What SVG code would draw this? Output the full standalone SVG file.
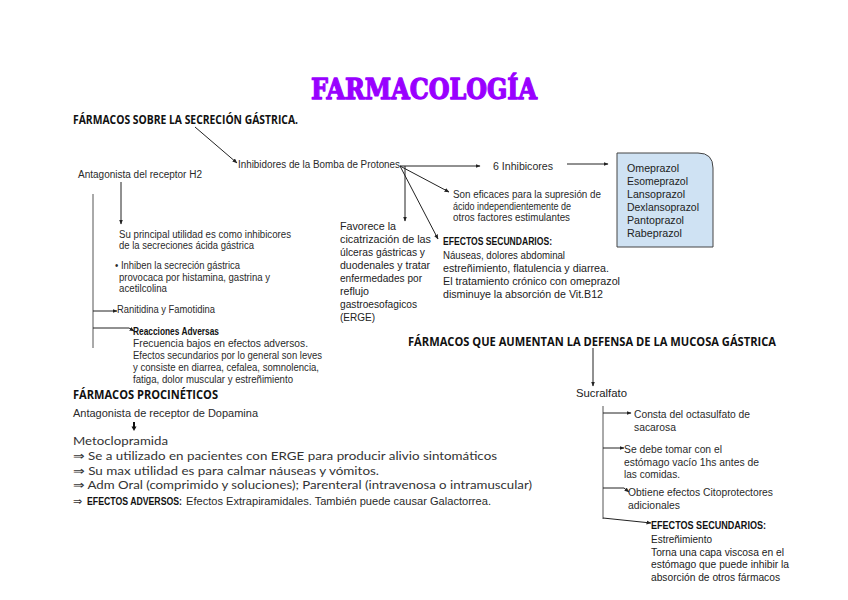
<svg xmlns="http://www.w3.org/2000/svg" width="848" height="600" viewBox="0 0 848 600">
<defs>
<marker id="ah" viewBox="0 0 10 10" refX="9" refY="5" markerWidth="5" markerHeight="5" orient="auto"><path d="M0,1 L10,5 L0,9 z" fill="#222"/></marker>
<style>
.t{font-family:"Liberation Sans",Arial,sans-serif;font-size:10px;fill:#2a2a2a}
.m{font-family:"Liberation Sans",Arial,sans-serif;font-size:11px;fill:#222}
.h{font-family:"Open Sans","Liberation Sans",sans-serif;font-weight:bold;font-size:12px;fill:#111}
.hs{font-family:"Liberation Sans",Arial,sans-serif;font-weight:bold;font-size:10.5px;fill:#111}
.r{font-family:Lato,"Liberation Sans",sans-serif;font-size:11.5px;fill:#333}
.c{fill:none;stroke:#222;stroke-width:1}
.g{fill:none;stroke:#555;stroke-width:1}
</style>
</defs>
<rect width="848" height="600" fill="#fff"/>

<g id="title"><text x="311" y="99" font-family="'DejaVu Serif',serif" font-weight="bold" font-size="27" fill="#9900ff" stroke="#9900ff" stroke-width="1.3" stroke-linejoin="round" textLength="226" lengthAdjust="spacingAndGlyphs">FARMACOLOGÍA</text></g>

<g id="secrecion"><text class="h" x="73" y="124" textLength="225" lengthAdjust="spacingAndGlyphs">FÁRMACOS SOBRE LA SECRECIÓN GÁSTRICA.</text></g>

<g id="ibp"><text class="t" x="238" y="168" textLength="162" lengthAdjust="spacingAndGlyphs">Inhibidores de la Bomba de Protones</text></g>

<g id="seis"><text class="t" x="493" y="170" font-size="10.5" textLength="60" lengthAdjust="spacingAndGlyphs">6 Inhibicores</text></g>

<g id="lista">
<path d="M617,153 H698 Q713,153 713,168 V247 H617 Z" fill="#cfe2f3" stroke="#444" stroke-width="1"/>
<text class="m" x="627" y="172" textLength="52" lengthAdjust="spacingAndGlyphs">Omeprazol</text>
<text class="m" x="627" y="185" textLength="61" lengthAdjust="spacingAndGlyphs">Esomeprazol</text>
<text class="m" x="627" y="198" textLength="58" lengthAdjust="spacingAndGlyphs">Lansoprazol</text>
<text class="m" x="627" y="211" textLength="72" lengthAdjust="spacingAndGlyphs">Dexlansoprazol</text>
<text class="m" x="627" y="224" textLength="57" lengthAdjust="spacingAndGlyphs">Pantoprazol</text>
<text class="m" x="627" y="237" textLength="55" lengthAdjust="spacingAndGlyphs">Rabeprazol</text>
</g>

<g id="eficaces">
<text class="t" x="453" y="198" textLength="148" lengthAdjust="spacingAndGlyphs">Son eficaces para la supresión de</text>
<text class="t" x="453" y="210" textLength="118" lengthAdjust="spacingAndGlyphs">ácido independientemente de</text>
<text class="t" x="453" y="221" textLength="117" lengthAdjust="spacingAndGlyphs">otros factores estimulantes</text>
</g>

<g id="favorece">
<text class="m" x="340" y="230" textLength="56" lengthAdjust="spacingAndGlyphs">Favorece la</text>
<text class="m" x="340" y="243" textLength="91" lengthAdjust="spacingAndGlyphs">cicatrización de las</text>
<text class="m" x="340" y="256" textLength="85" lengthAdjust="spacingAndGlyphs">úlceras gástricas y</text>
<text class="m" x="340" y="269" textLength="90" lengthAdjust="spacingAndGlyphs">duodenales y tratar</text>
<text class="m" x="340" y="282" textLength="82" lengthAdjust="spacingAndGlyphs">enfermedades por</text>
<text class="m" x="340" y="295" textLength="29" lengthAdjust="spacingAndGlyphs">reflujo</text>
<text class="m" x="340" y="308" textLength="77" lengthAdjust="spacingAndGlyphs">gastroesofagicos</text>
<text class="m" x="340" y="321" textLength="35" lengthAdjust="spacingAndGlyphs">(ERGE)</text>
</g>

<g id="efectos-ibp">
<text class="hs" x="443" y="245" textLength="109" lengthAdjust="spacingAndGlyphs">EFECTOS SECUNDARIOS:</text>
<text class="m" x="443" y="259" textLength="122" lengthAdjust="spacingAndGlyphs">Náuseas, dolores abdominal</text>
<text class="m" x="443" y="272" textLength="166" lengthAdjust="spacingAndGlyphs">estreñimiento, flatulencia y diarrea.</text>
<text class="m" x="443" y="285" textLength="177" lengthAdjust="spacingAndGlyphs">El tratamiento crónico con omeprazol</text>
<text class="m" x="443" y="298" textLength="160" lengthAdjust="spacingAndGlyphs">disminuye la absorción de Vit.B12</text>
</g>

<g id="h2"><text class="t" x="78" y="178" textLength="124" lengthAdjust="spacingAndGlyphs">Antagonista del receptor H2</text></g>

<g id="utilidad">
<text class="t" x="119" y="238" textLength="172" lengthAdjust="spacingAndGlyphs">Su principal utilidad es como inhibicores</text>
<text class="t" x="119" y="249" textLength="135" lengthAdjust="spacingAndGlyphs">de la secreciones ácida gástrica</text>
</g>

<g id="inhiben">
<text class="t" x="115" y="269" textLength="125" lengthAdjust="spacingAndGlyphs">• Inhiben la secreción gástrica</text>
<text class="t" x="119" y="281" textLength="151" lengthAdjust="spacingAndGlyphs">provocaca por histamina, gastrina y</text>
<text class="t" x="119" y="292" textLength="48" lengthAdjust="spacingAndGlyphs">acetilcolina</text>
</g>

<g id="ranitidina"><text class="t" x="117" y="313" textLength="98" lengthAdjust="spacingAndGlyphs">Ranitidina y Famotidina</text></g>

<g id="reacciones">
<text class="hs" x="133" y="335" textLength="86" lengthAdjust="spacingAndGlyphs">Reacciones Adversas</text>
<text class="t" x="133" y="347" textLength="175" lengthAdjust="spacingAndGlyphs">Frecuencia bajos en efectos adversos.</text>
<text class="t" x="133" y="359" textLength="189" lengthAdjust="spacingAndGlyphs">Efectos secundarios por lo general son leves</text>
<text class="t" x="133" y="371" textLength="186" lengthAdjust="spacingAndGlyphs">y consiste en diarrea, cefalea, somnolencia,</text>
<text class="t" x="133" y="383" textLength="160" lengthAdjust="spacingAndGlyphs">fatiga, dolor muscular y estreñimiento</text>
</g>

<g id="procineticos">
<text class="h" x="73" y="399" textLength="145" lengthAdjust="spacingAndGlyphs">FÁRMACOS PROCINÉTICOS</text>
<text class="t" x="73" y="417" font-size="11" textLength="185" lengthAdjust="spacingAndGlyphs">Antagonista de receptor de Dopamina</text>
<path d="M134,422 V427" stroke="#111" stroke-width="2"/>
<path d="M131.5,426.5 H136.5 L134,431 Z" fill="#111"/>
</g>

<g id="metoclopramida">
<text class="r" x="73" y="445" textLength="95" lengthAdjust="spacingAndGlyphs">Metoclopramida</text>
<text class="r" x="73" y="460" textLength="424" lengthAdjust="spacingAndGlyphs">⇒ Se a utilizado en pacientes con ERGE para producir alivio sintomáticos</text>
<text class="r" x="73" y="474.5" textLength="306" lengthAdjust="spacingAndGlyphs">⇒ Su max utilidad es para calmar náuseas y vómitos.</text>
<text class="r" x="73" y="488.5" textLength="459" lengthAdjust="spacingAndGlyphs">⇒ Adm Oral (comprimido y soluciones); Parenteral (intravenosa o intramuscular)</text>
<text class="t" x="73" y="504.5"><tspan font-family="Lato,'Liberation Sans',sans-serif" font-size="11" fill="#333">⇒ </tspan><tspan x="87" font-weight="bold" font-size="10" fill="#111" textLength="95" lengthAdjust="spacingAndGlyphs">EFECTOS ADVERSOS:</tspan><tspan x="186" textLength="305" lengthAdjust="spacingAndGlyphs">Efectos Extrapiramidales. También puede causar Galactorrea.</tspan></text>
</g>

<g id="defensa"><text class="h" x="408" y="346" textLength="368" lengthAdjust="spacingAndGlyphs">FÁRMACOS QUE AUMENTAN LA DEFENSA DE LA MUCOSA GÁSTRICA</text></g>

<g id="sucralfato"><text class="m" x="576" y="397" font-size="11.5" textLength="51" lengthAdjust="spacingAndGlyphs">Sucralfato</text></g>

<g id="consta">
<text class="t" x="634" y="418" textLength="116" lengthAdjust="spacingAndGlyphs">Consta del octasulfato de</text>
<text class="t" x="634" y="431" textLength="42" lengthAdjust="spacingAndGlyphs">sacarosa</text>
</g>

<g id="tomar">
<text class="t" x="624" y="453" textLength="98" lengthAdjust="spacingAndGlyphs">Se debe tomar con el</text>
<text class="t" x="624" y="466" textLength="135" lengthAdjust="spacingAndGlyphs">estómago vacío 1hs antes de</text>
<text class="t" x="624" y="478" textLength="56" lengthAdjust="spacingAndGlyphs">las comidas.</text>
</g>

<g id="obtiene">
<text class="t" x="628" y="496" textLength="145" lengthAdjust="spacingAndGlyphs">Obtiene efectos Citoprotectores</text>
<text class="t" x="628" y="509" textLength="52" lengthAdjust="spacingAndGlyphs">adicionales</text>
</g>

<g id="efectos-sucralfato">
<text class="hs" x="651" y="529" textLength="115" lengthAdjust="spacingAndGlyphs">EFECTOS SECUNDARIOS:</text>
<text class="m" x="651" y="543" textLength="61" lengthAdjust="spacingAndGlyphs">Estreñimiento</text>
<text class="m" x="651" y="556" textLength="133" lengthAdjust="spacingAndGlyphs">Torna una capa viscosa en el</text>
<text class="m" x="651" y="568" textLength="138" lengthAdjust="spacingAndGlyphs">estómago que puede inhibir la</text>
<text class="m" x="651" y="581" textLength="129" lengthAdjust="spacingAndGlyphs">absorción de otros fármacos</text>
</g>

<g id="connectors">
<path class="c" d="M195,127 L237,163" marker-end="url(#ah)"/>
<path class="c" d="M400,166 H480" marker-end="url(#ah)"/>
<path class="c" d="M567,164 H608" marker-end="url(#ah)"/>
<path class="c" d="M400,166 L449,192" marker-end="url(#ah)"/>
<path class="c" d="M400,166 L438,239" marker-end="url(#ah)"/>
<path class="c" d="M405,166 V221" marker-end="url(#ah)"/>
<path class="c" d="M121,182 V224" marker-end="url(#ah)"/>
<path class="g" d="M93,194 V348"/>
<path class="c" d="M93,311 H117" marker-end="url(#ah)"/>
<path class="c" d="M93,328 H129 L134,331" marker-end="url(#ah)"/>
<path class="c" d="M593,348 V386" marker-end="url(#ah)"/>
<path class="g" d="M603,406 V519"/>
<path class="c" d="M603,413 H631" marker-end="url(#ah)"/>
<path class="c" d="M603,448 H624" marker-end="url(#ah)"/>
<path class="c" d="M603,488 H624 L629,492" marker-end="url(#ah)"/>
<path class="c" d="M603,518 L651,523" marker-end="url(#ah)"/>
</g>
</svg>
